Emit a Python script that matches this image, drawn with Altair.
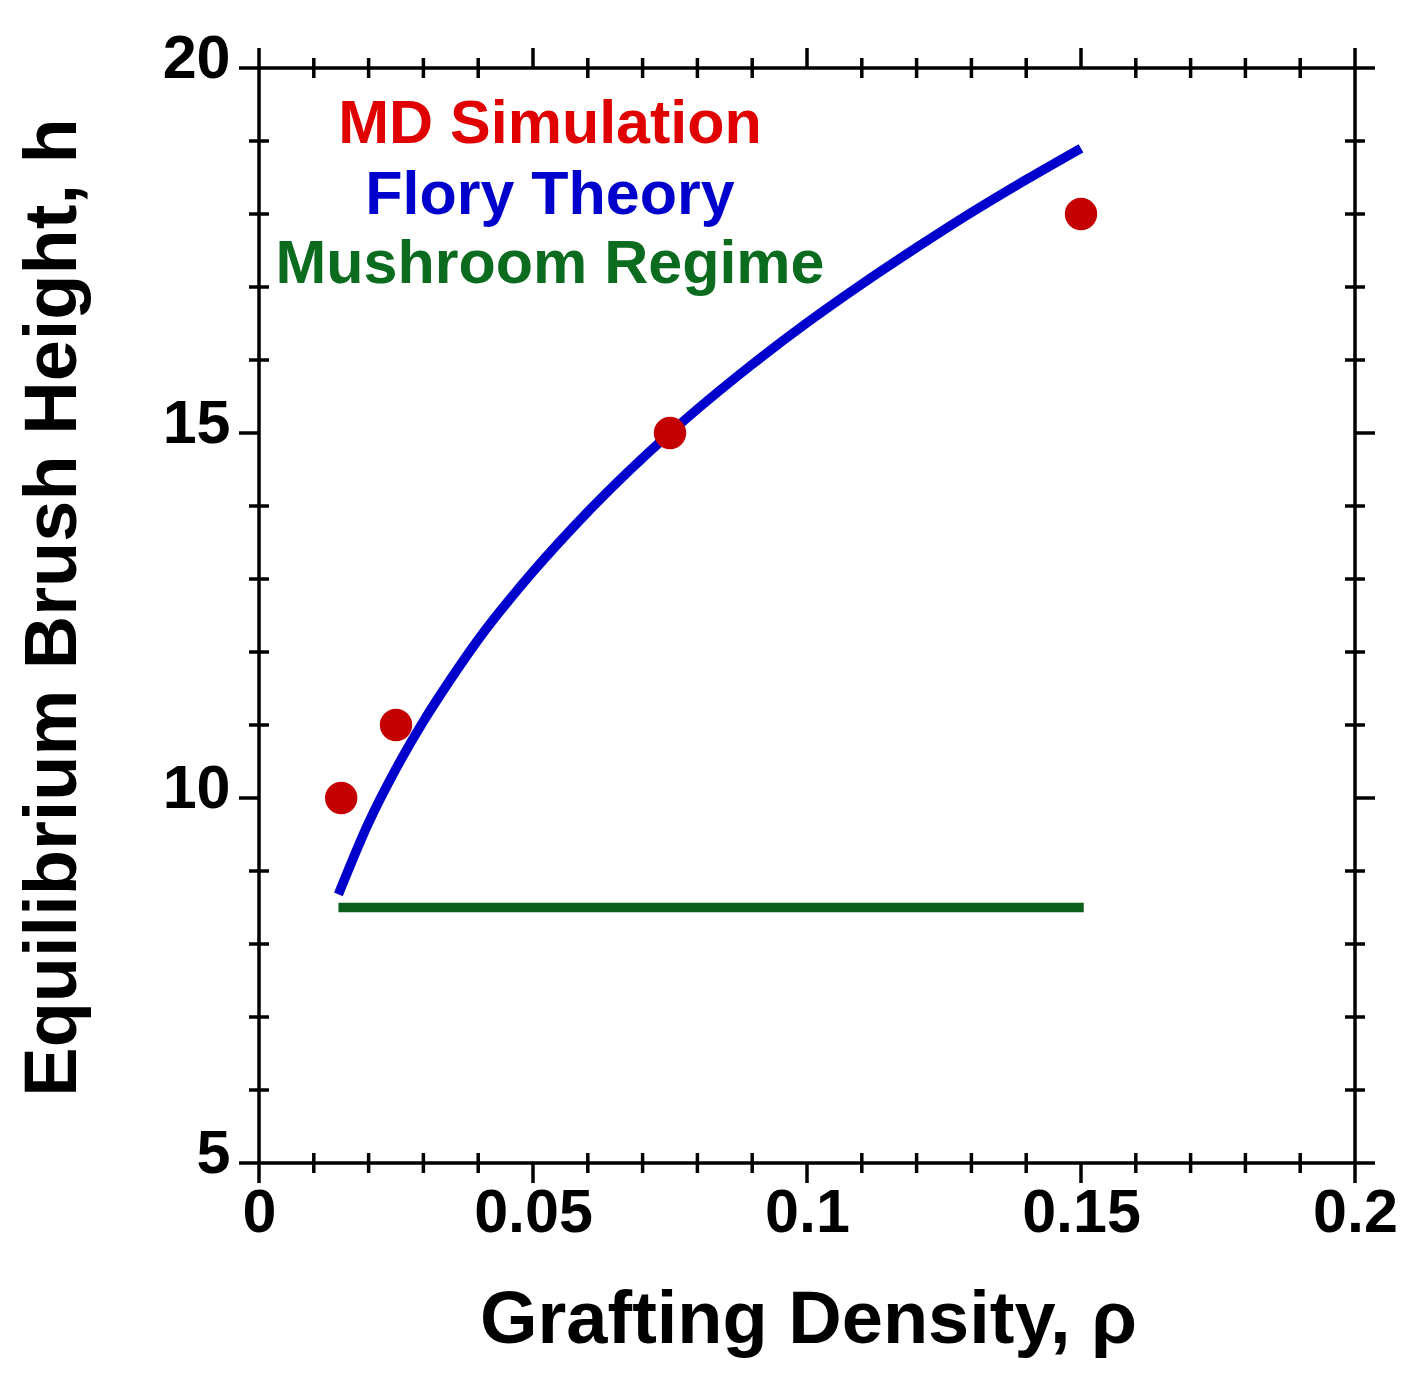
import altair as alt
import pandas as pd

# ---- data ----
md_x = [0.015, 0.025, 0.075, 0.15]
md_y = [10.0, 11.0, 15.0, 18.0]

flory_x = [0.0145, 0.02, 0.025, 0.03, 0.035, 0.04, 0.05, 0.06, 0.075,
           0.09, 0.1, 0.11, 0.12, 0.13, 0.14, 0.15]
flory_y = [8.68, 9.66, 10.4, 11.05, 11.63, 12.17, 13.1, 13.92, 15.0,
           15.94, 16.51, 17.04, 17.54, 18.02, 18.47, 18.9]

mush_x = [0.0145, 0.1505]
mush_y = [8.5, 8.5]

label_text = ["MD Simulation", "Flory Theory", "Mushroom Regime"]
label_x = [0.0531, 0.0531, 0.0531]
label_y = [18.97, 18.0, 17.05]
label_color = ["#e00000", "#0000cc", "#0b6b1e"]

x_major = [0, 0.05, 0.1, 0.15, 0.2]
x_minor = [0.01, 0.02, 0.03, 0.04, 0.06, 0.07, 0.08, 0.09,
           0.11, 0.12, 0.13, 0.14, 0.16, 0.17, 0.18, 0.19]
y_major = [5, 10, 15, 20]
y_minor = [6, 7, 8, 9, 11, 12, 13, 14, 16, 17, 18, 19]

W, H = 1096, 1095
FONT = "Liberation Sans"

xs = alt.Scale(domain=[0, 0.2], nice=False, zero=False)
ys = alt.Scale(domain=[5, 20], nice=False, zero=False)

x_axis = alt.Axis(values=x_major, format="~g", grid=False, ticks=False, domain=False,
                  labelFont=FONT, labelFontWeight="bold", labelFontSize=61,
                  labelColor="black", labelBaseline="top", labelPadding=20,
                  labelFlush=False,
                  title="Grafting Density, ρ", titleFont=FONT, titleFontWeight="bold",
                  titleFontSize=74, titleColor="black", titleX=549, titleY=179,
                  titleBaseline="alphabetic", titleAlign="center")
y_axis = alt.Axis(values=y_major, format="~g", grid=False, ticks=False, domain=False,
                  labelFont=FONT, labelFontWeight="bold", labelFontSize=61,
                  labelColor="black", labelBaseline="alphabetic", labelOffset=9,
                  labelPadding=29, labelFlush=False,
                  title="Equilibrium Brush Height, h", titleFont=FONT,
                  titleFontWeight="bold", titleFontSize=74, titleColor="black",
                  titleX=-184, titleY=539, titleAngle=-90,
                  titleBaseline="alphabetic", titleAlign="center")

df_md = pd.DataFrame({"x": md_x, "y": md_y})
df_fl = pd.DataFrame({"x": flory_x, "y": flory_y})
df_mu = pd.DataFrame({"x": mush_x, "y": mush_y})
df_lb = pd.DataFrame({"x": label_x, "y": label_y, "t": label_text, "c": label_color})

base_line = alt.Chart(df_fl).mark_line(color="#0000cc", strokeWidth=9.5,
                                       interpolate="monotone", strokeCap="butt").encode(
    x=alt.X("x:Q", scale=xs, axis=x_axis),
    y=alt.Y("y:Q", scale=ys, axis=y_axis),
)
mush = alt.Chart(df_mu).mark_line(color="#0b5e1b", strokeWidth=9.5, strokeCap="butt").encode(
    x=alt.X("x:Q", scale=xs), y=alt.Y("y:Q", scale=ys))
pts = alt.Chart(df_md).mark_circle(color="#c40000", opacity=1, size=1050).encode(
    x=alt.X("x:Q", scale=xs), y=alt.Y("y:Q", scale=ys))
labels = alt.Chart(df_lb).mark_text(font=FONT, fontWeight="bold", fontSize=61,
                                    align="center", baseline="alphabetic").encode(
    x=alt.X("x:Q", scale=xs), y=alt.Y("y:Q", scale=ys),
    text="t:N", color=alt.Color("c:N", scale=None))

def xticks(vals, y1, y2):
    d = pd.DataFrame({"x": vals})
    return alt.Chart(d).mark_rule(color="black", strokeWidth=3.5).encode(
        x=alt.X("x:Q", scale=xs), y=alt.value(y1), y2=alt.value(y2))
def yticks(vals, x1, x2):
    d = pd.DataFrame({"y": vals})
    return alt.Chart(d).mark_rule(color="black", strokeWidth=3.5).encode(
        y=alt.Y("y:Q", scale=ys), x=alt.value(x1), x2=alt.value(x2))

tick_layers = [
    xticks(x_major, H, H + 20), xticks(x_minor, H - 10, H + 10),
    xticks(x_major, -20, 0), xticks(x_minor, -10, 10),
    yticks(y_major, -20, 0), yticks(y_minor, -10, 10),
    yticks(y_major, W, W + 20), yticks(y_minor, W - 10, W + 10),
]

chart = alt.layer(base_line, mush, *tick_layers, pts, labels).properties(
    width=W, height=H,
    autosize=alt.AutoSizeParams(type="none"),
    padding={"left": 251, "top": 60, "right": 50, "bottom": 200},
    background="white",
).configure_view(stroke="black", strokeWidth=3.5)

chart.save("out.html", embed_options={"renderer": "svg", "actions": False})
